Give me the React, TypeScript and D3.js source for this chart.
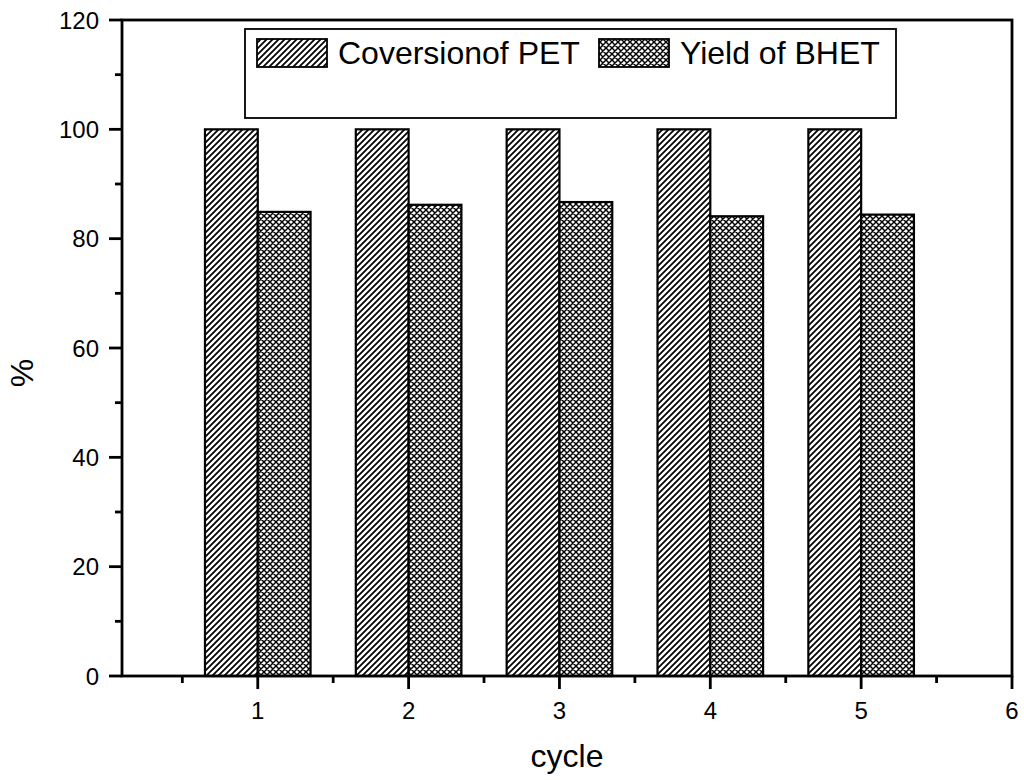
import * as d3 from "d3";
import { useEffect, useRef } from "react";

const cycles = [1, 2, 3, 4, 5];
const conversionPET = [100, 100, 100, 100, 100];
const yieldBHET = [84.9, 86.2, 86.7, 84.1, 84.4];
const seriesNames = ["Coversionof PET", "Yield of BHET"];
const yTicks = [0, 20, 40, 60, 80, 100, 120];
const xTicks = [1, 2, 3, 4, 5, 6];

const App = () => {
	const chartRef = useRef<SVGSVGElement | null>(null);

	useEffect(() => {
		if (!chartRef.current) return;
		document.body.style.margin = "0";
		const svg = d3.select(chartRef.current);
		svg.selectAll("*").remove();

		const width = 1024;
		const height = 780;
		const left = 122;
		const right = 1012;
		const top = 20;
		const bottom = 676;
		const font = "Arial, 'Liberation Sans', sans-serif";

		const x = d3.scaleLinear().domain([0.1, 6]).range([left, right]);
		const y = d3.scaleLinear().domain([0, 120]).range([bottom, top]);
		const barW = x(1.35) - x(1);

		svg.attr("width", width).attr("height", height);
		svg.append("rect").attr("width", width).attr("height", height).attr("fill", "white");

		const defs = svg.append("defs");
		// single diagonal hatch
		const p1 = defs
			.append("pattern")
			.attr("id", "hatch")
			.attr("patternUnits", "userSpaceOnUse")
			.attr("width", 6)
			.attr("height", 6);
		p1.append("rect").attr("width", 6).attr("height", 6).attr("fill", "white");
		p1.append("path")
			.attr("d", "M-1,1 l2,-2 M0,6 l6,-6 M5,7 l2,-2")
			.attr("stroke", "black")
			.attr("stroke-width", 1.75);
		// cross hatch
		const p2 = defs
			.append("pattern")
			.attr("id", "cross")
			.attr("patternUnits", "userSpaceOnUse")
			.attr("width", 6)
			.attr("height", 6);
		p2.append("rect").attr("width", 6).attr("height", 6).attr("fill", "white");
		p2.append("path")
			.attr("d", "M-1,1 l2,-2 M0,6 l6,-6 M5,7 l2,-2 M-1,5 l2,2 M0,0 l6,6 M5,-1 l2,2")
			.attr("stroke", "black")
			.attr("stroke-width", 1.45);

		// bars
		const g = svg.append("g");
		g.selectAll("rect.conv")
			.data(cycles)
			.enter()
			.append("rect")
			.attr("class", "conv")
			.attr("x", (d) => x(d) - barW)
			.attr("y", (_, i) => y(conversionPET[i]))
			.attr("width", barW)
			.attr("height", (_, i) => bottom - y(conversionPET[i]))
			.attr("fill", "url(#hatch)")
			.attr("stroke", "black")
			.attr("stroke-width", 2.2);
		g.selectAll("rect.yield")
			.data(cycles)
			.enter()
			.append("rect")
			.attr("class", "yield")
			.attr("x", (d) => x(d))
			.attr("y", (_, i) => y(yieldBHET[i]))
			.attr("width", barW)
			.attr("height", (_, i) => bottom - y(yieldBHET[i]))
			.attr("fill", "url(#cross)")
			.attr("stroke", "black")
			.attr("stroke-width", 2.2);

		// frame
		svg.append("rect")
			.attr("x", left)
			.attr("y", top)
			.attr("width", right - left)
			.attr("height", bottom - top)
			.attr("fill", "none")
			.attr("stroke", "black")
			.attr("stroke-width", 2.8);

		// y axis
		const yAxis = svg.append("g").attr("transform", `translate(${left},0)`);
		yAxis.selectAll("line.major")
			.data(yTicks)
			.enter()
			.append("line")
			.attr("x1", -13)
			.attr("x2", 0)
			.attr("y1", (d) => y(d))
			.attr("y2", (d) => y(d))
			.attr("stroke", "black")
			.attr("stroke-width", 2.8);
		yAxis.selectAll("line.minor")
			.data(yTicks.slice(0, -1).map((d) => d + 10))
			.enter()
			.append("line")
			.attr("x1", -7)
			.attr("x2", 0)
			.attr("y1", (d) => y(d))
			.attr("y2", (d) => y(d))
			.attr("stroke", "black")
			.attr("stroke-width", 2.8);
		yAxis.selectAll("text")
			.data(yTicks)
			.enter()
			.append("text")
			.attr("x", -23)
			.attr("y", (d) => y(d))
			.attr("dy", "0.36em")
			.attr("text-anchor", "end")
			.attr("font-family", font)
			.attr("font-size", 24)
			.text((d) => d);

		// x axis
		const xAxis = svg.append("g").attr("transform", `translate(0,${bottom})`);
		xAxis.selectAll("line.major")
			.data(xTicks)
			.enter()
			.append("line")
			.attr("x1", (d) => x(d))
			.attr("x2", (d) => x(d))
			.attr("y1", 0)
			.attr("y2", 13)
			.attr("stroke", "black")
			.attr("stroke-width", 2.8);
		xAxis.selectAll("line.minor")
			.data(xTicks.map((d) => d - 0.5))
			.enter()
			.append("line")
			.attr("x1", (d) => x(d))
			.attr("x2", (d) => x(d))
			.attr("y1", 0)
			.attr("y2", 7)
			.attr("stroke", "black")
			.attr("stroke-width", 2.8);
		xAxis.selectAll("text")
			.data(xTicks)
			.enter()
			.append("text")
			.attr("x", (d) => x(d))
			.attr("y", 43)
			.attr("text-anchor", "middle")
			.attr("font-family", font)
			.attr("font-size", 24)
			.text((d) => d);

		// axis titles
		svg.append("text")
			.attr("x", 567)
			.attr("y", 767)
			.attr("text-anchor", "middle")
			.attr("font-family", font)
			.attr("font-size", 32)
			.text("cycle");
		svg.append("text")
			.attr("transform", `translate(33,${(top + bottom) / 2 + 25}) rotate(-90)`)
			.attr("text-anchor", "middle")
			.attr("font-family", font)
			.attr("font-size", 32)
			.text("%");

		// legend
		const legend = svg.append("g");
		legend.append("rect")
			.attr("x", 245)
			.attr("y", 29)
			.attr("width", 651)
			.attr("height", 89)
			.attr("fill", "white")
			.attr("stroke", "black")
			.attr("stroke-width", 1.8);
		const items = [
			{ name: seriesNames[0], fill: "url(#hatch)", x: 257 },
			{ name: seriesNames[1], fill: "url(#cross)", x: 599 },
		];
		items.forEach((it) => {
			legend.append("rect")
				.attr("x", it.x)
				.attr("y", 39)
				.attr("width", 70)
				.attr("height", 28)
				.attr("fill", it.fill)
				.attr("stroke", "black")
				.attr("stroke-width", 1.8);
			legend.append("text")
				.attr("x", it.x + 81)
				.attr("y", 64)
				.attr("font-family", font)
				.attr("font-size", 32)
				.text(it.name);
		});
	}, []);

	return <svg ref={chartRef} style={{ display: "block" }} />;
};

export default App;
